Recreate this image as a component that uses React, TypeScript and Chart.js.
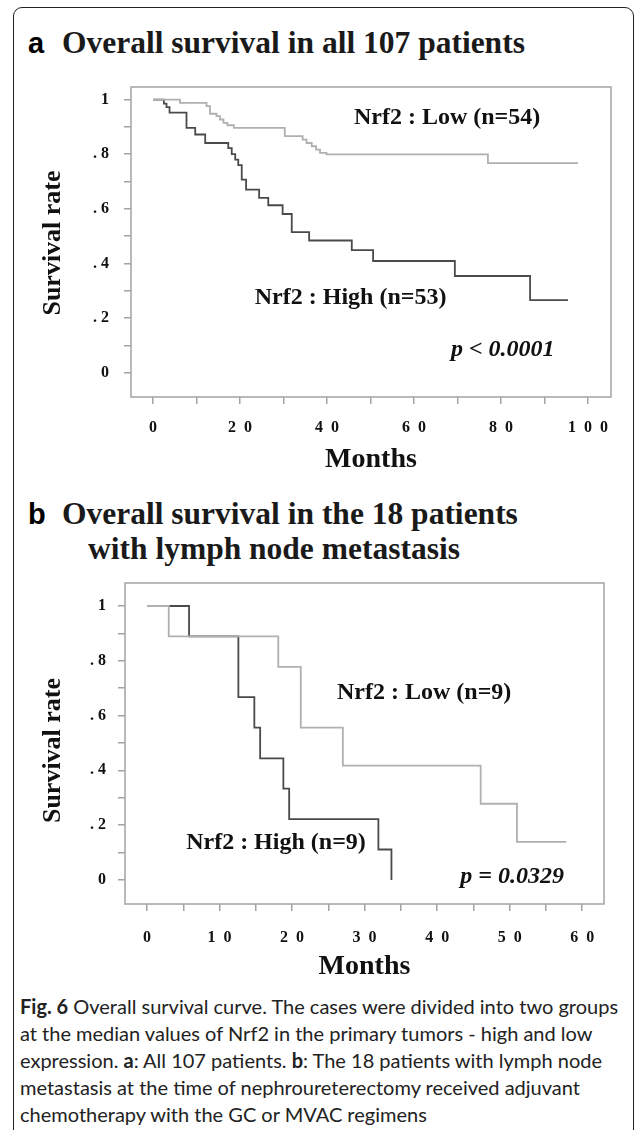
import React, { useEffect, useRef } from "react";
import { Chart, registerables } from "chart.js";

Chart.register(...registerables);

// ---------- data ----------
// Panel a: all 107 patients
const aHighMonths = [0, 2.5, 3.1, 3.8, 7.7, 9.7, 12.0, 17.3, 18.1, 18.9, 19.6, 20.4, 21.4, 24.4, 26.5, 29.8, 31.9, 35.9, 45.7, 50.6, 69.4, 86.7, 95.4];
const aHighSurvival = [1, 0.985, 0.972, 0.952, 0.896, 0.872, 0.841, 0.822, 0.8, 0.78, 0.76, 0.707, 0.67, 0.64, 0.613, 0.581, 0.515, 0.484, 0.449, 0.409, 0.354, 0.266, 0.266];
const aLowMonths = [0, 6.2, 12.3, 13.1, 14.6, 15.4, 16.2, 17.1, 18.6, 30.3, 34.4, 35.3, 36.5, 37.5, 38.4, 39.9, 77.0, 97.7];
const aLowSurvival = [1, 0.988, 0.976, 0.948, 0.939, 0.927, 0.915, 0.906, 0.896, 0.866, 0.853, 0.841, 0.829, 0.817, 0.805, 0.799, 0.767, 0.767];

// Panel b: 18 patients with lymph node metastasis
const bHighMonths = [0, 5.8, 12.6, 14.8, 15.6, 18.8, 19.6, 31.9, 33.7];
const bHighSurvival = [1, 0.889, 0.667, 0.556, 0.444, 0.333, 0.222, 0.111, 0];
const bLowMonths = [0, 3.0, 18.1, 21.2, 27.0, 46.0, 51.0, 57.8];
const bLowSurvival = [1, 0.889, 0.778, 0.556, 0.417, 0.278, 0.139, 0.139];

// ticks
const yTickValues = [0, 0.1, 0.2, 0.3, 0.4, 0.5, 0.6, 0.7, 0.8, 0.9, 1];
const yTickLabels = ["0", "", ". 2", "", ". 4", "", ". 6", "", ". 8", "", "1"];
const aXTickValues = [0, 10, 20, 30, 40, 50, 60, 70, 80, 90, 100];
const aXTickLabels = ["0", "", "2\u20020", "", "4\u20020", "", "6\u20020", "", "8\u20020", "", "1\u20020\u20020"];
const bXTickValues = [0, 5, 10, 15, 20, 25, 30, 35, 40, 45, 50, 55, 60];
const bXTickLabels = ["0", "", "1\u20020", "", "2\u20020", "", "3\u20020", "", "4\u20020", "", "5\u20020", "", "6\u20020"];

const SERIF = "'Liberation Serif', 'Times New Roman', serif";
const DARK = "#4a4a4a";
const LIGHT = "#b0b0b0";
const BOX = "#a3a3a3";
const INK = "#111";

type Note = { x: number; y: number; text: string; italic?: boolean };

type PanelCfg = {
  width: number;
  height: number;
  high: { months: number[]; surv: number[] };
  low: { months: number[]; surv: number[] };
  xMin: number;
  xMax: number;
  yMin: number;
  yMax: number;
  xTickValues: number[];
  xTickLabels: string[];
  padTop: number;
  padRight: number;
  yAxisWidth: number;
  xAxisHeight: number;
  yTickPad: number;
  xTickPad: number;
  yTitleX: number;
  yTitleShift: number;
  xTitlePad: number;
  notes: Note[];
};

const boxPlugin = {
  id: "kmBox",
  beforeDatasetsDraw(chart: any) {
    const { ctx, chartArea } = chart;
    ctx.save();
    ctx.strokeStyle = BOX;
    ctx.lineWidth = 1.5;
    ctx.strokeRect(chartArea.left, chartArea.top, chartArea.right - chartArea.left, chartArea.bottom - chartArea.top);
    ctx.restore();
  },
};

function textPlugin(p: PanelCfg) {
  return {
    id: "kmText",
    afterDraw(chart: any) {
      const { ctx, scales, chartArea } = chart;
      ctx.save();
      ctx.fillStyle = INK;
      ctx.textBaseline = "middle";
      ctx.textAlign = "left";
      p.notes.forEach((n) => {
        ctx.font = `${n.italic ? "italic " : ""}bold 24px ${SERIF}`;
        ctx.fillText(n.text, scales.x.getPixelForValue(n.x), scales.y.getPixelForValue(n.y));
      });
      // y-axis title
      ctx.font = `bold 26px ${SERIF}`;
      ctx.textAlign = "center";
      ctx.translate(p.yTitleX, (chartArea.top + chartArea.bottom) / 2 + p.yTitleShift);
      ctx.rotate(-Math.PI / 2);
      ctx.fillText("Survival rate", 0, 0);
      ctx.restore();
    },
  };
}

function buildConfig(p: PanelCfg): any {
  const toPts = (m: number[], s: number[]) => m.map((x, i) => ({ x, y: s[i] }));
  return {
    type: "line",
    data: {
      datasets: [
        {
          label: "Nrf2 : Low",
          data: toPts(p.low.months, p.low.surv),
          borderColor: LIGHT,
          borderWidth: 1.8,
          stepped: "before",
          pointRadius: 0,
          fill: false,
        },
        {
          label: "Nrf2 : High",
          data: toPts(p.high.months, p.high.surv),
          borderColor: DARK,
          borderWidth: 1.8,
          stepped: "before",
          pointRadius: 0,
          fill: false,
        },
      ],
    },
    options: {
      animation: false,
      responsive: false,
      devicePixelRatio: 1,
      layout: { padding: { top: p.padTop, right: p.padRight, bottom: 0, left: 0 } },
      plugins: { legend: { display: false }, tooltip: { enabled: false } },
      scales: {
        x: {
          type: "linear",
          min: p.xMin,
          max: p.xMax,
          afterBuildTicks: (s: any) => {
            s.ticks = p.xTickValues.map((v) => ({ value: v }));
          },
          afterFit: (s: any) => {
            s.height = p.xAxisHeight;
          },
          ticks: {
            autoSkip: false,
            maxRotation: 0,
            padding: p.xTickPad,
            color: INK,
            font: { family: SERIF, weight: "bold", size: 16 },
            callback: (_v: any, i: number) => p.xTickLabels[i],
          },
          grid: { display: true, drawOnChartArea: false, drawTicks: true, tickLength: 7, color: BOX, lineWidth: 1.5 },
          border: { display: false },
          title: {
            display: true,
            text: "Months",
            color: INK,
            font: { family: SERIF, weight: "bold", size: 28, lineHeight: 1 },
            padding: { top: 0, bottom: p.xTitlePad },
          },
        },
        y: {
          type: "linear",
          min: p.yMin,
          max: p.yMax,
          afterBuildTicks: (s: any) => {
            s.ticks = yTickValues.map((v) => ({ value: v }));
          },
          afterFit: (s: any) => {
            s.width = p.yAxisWidth;
          },
          ticks: {
            autoSkip: false,
            padding: p.yTickPad,
            color: INK,
            font: { family: SERIF, weight: "bold", size: 16 },
            callback: (_v: any, i: number) => yTickLabels[i],
          },
          grid: { display: true, drawOnChartArea: false, drawTicks: true, tickLength: 7, color: BOX, lineWidth: 1.5 },
          border: { display: false },
          title: { display: false },
        },
      },
    },
    plugins: [boxPlugin, textPlugin(p)],
  };
}

const panelA: PanelCfg = {
  width: 635,
  height: 420,
  high: { months: aHighMonths, surv: aHighSurvival },
  low: { months: aLowMonths, surv: aLowSurvival },
  xMin: -5.06,
  xMax: 105.3,
  yMin: -0.089,
  yMax: 1.046,
  xTickValues: aXTickValues,
  xTickLabels: aXTickLabels,
  padTop: 27,
  padRight: 24,
  yAxisWidth: 131,
  xAxisHeight: 83,
  yTickPad: 15,
  xTickPad: 14,
  yTitleX: 53,
  yTitleShift: 1,
  xTitlePad: 6,
  notes: [
    { x: 46.2, y: 0.933, text: "Nrf2 : Low (n=54)" },
    { x: 23.4, y: 0.274, text: "Nrf2 : High (n=53)" },
    { x: 68.5, y: 0.083, text: "p < 0.0001", italic: true },
  ],
};

const panelB: PanelCfg = {
  width: 635,
  height: 430,
  high: { months: bHighMonths, surv: bHighSurvival },
  low: { months: bLowMonths, surv: bLowSurvival },
  xMin: -3.03,
  xMax: 63.0,
  yMin: -0.088,
  yMax: 1.084,
  xTickValues: bXTickValues,
  xTickLabels: bXTickLabels,
  padTop: 23,
  padRight: 31,
  yAxisWidth: 125,
  xAxisHeight: 86,
  yTickPad: 12,
  xTickPad: 17,
  yTitleX: 53,
  yTitleShift: 7,
  xTitlePad: 9,
  notes: [
    { x: 26.2, y: 0.682, text: "Nrf2 : Low (n=9)" },
    { x: 5.4, y: 0.135, text: "Nrf2 : High (n=9)" },
    { x: 43.2, y: 0.011, text: "p = 0.0329", italic: true },
  ],
};

function KMPanel({ cfg, top }: { cfg: PanelCfg; top: number }) {
  const ref = useRef<HTMLCanvasElement>(null);
  useEffect(() => {
    const chart = new Chart(ref.current as HTMLCanvasElement, buildConfig(cfg));
    return () => chart.destroy();
  }, [cfg]);
  return (
    <canvas
      ref={ref}
      width={cfg.width}
      height={cfg.height}
      style={{ position: "absolute", left: 0, top, width: cfg.width, height: cfg.height, display: "block" }}
    />
  );
}

const titleStyle: React.CSSProperties = {
  position: "absolute",
  fontFamily: SERIF,
  fontWeight: "bold",
  fontSize: 31.5,
  lineHeight: "34px",
  color: "#1a1a1a",
  whiteSpace: "nowrap",
};
const letterStyle: React.CSSProperties = {
  position: "absolute",
  fontFamily: "'Liberation Sans', Arial, sans-serif",
  fontWeight: "bold",
  fontSize: 29,
  lineHeight: "34px",
  color: "#000",
};
const capStyle: React.CSSProperties = {
  position: "absolute",
  left: 20,
  fontFamily: "Lato, 'Open Sans', sans-serif",
  fontSize: 20,
  lineHeight: "22px",
  color: "#222",
  whiteSpace: "nowrap",
};

export default function App() {
  return (
    <div style={{ position: "absolute", left: 0, top: 0, width: 635, height: 1130, background: "#fff", overflow: "hidden" }}>
      <div
        style={{
          position: "absolute",
          left: 13,
          top: 7,
          width: 619,
          height: 1300,
          border: "1.5px solid #222",
          borderRadius: 9,
        }}
      />
      <div style={{ ...letterStyle, left: 28, top: 26 }}>a</div>
      <div style={{ ...titleStyle, left: 62, top: 26 }}>Overall survival in all 107 patients</div>

      <KMPanel cfg={panelA} top={60} />

      <div style={{ ...letterStyle, left: 28, top: 497 }}>b</div>
      <div style={{ ...titleStyle, left: 62, top: 497 }}>Overall survival in the 18 patients</div>
      <div style={{ ...titleStyle, left: 88, top: 532 }}>with lymph node metastasis</div>

      <KMPanel cfg={panelB} top={560} />

      <div style={{ ...capStyle, top: 995 }}>
        <b>Fig. 6</b> Overall survival curve. The cases were divided into two groups
      </div>
      <div style={{ ...capStyle, top: 1022 }}>at the median values of Nrf2 in the primary tumors - high and low</div>
      <div style={{ ...capStyle, top: 1049 }}>
        expression. <b>a</b>: All 107 patients. <b>b</b>: The 18 patients with lymph node
      </div>
      <div style={{ ...capStyle, top: 1076 }}>metastasis at the time of nephroureterectomy received adjuvant</div>
      <div style={{ ...capStyle, top: 1103 }}>chemotherapy with the GC or MVAC regimens</div>
    </div>
  );
}
